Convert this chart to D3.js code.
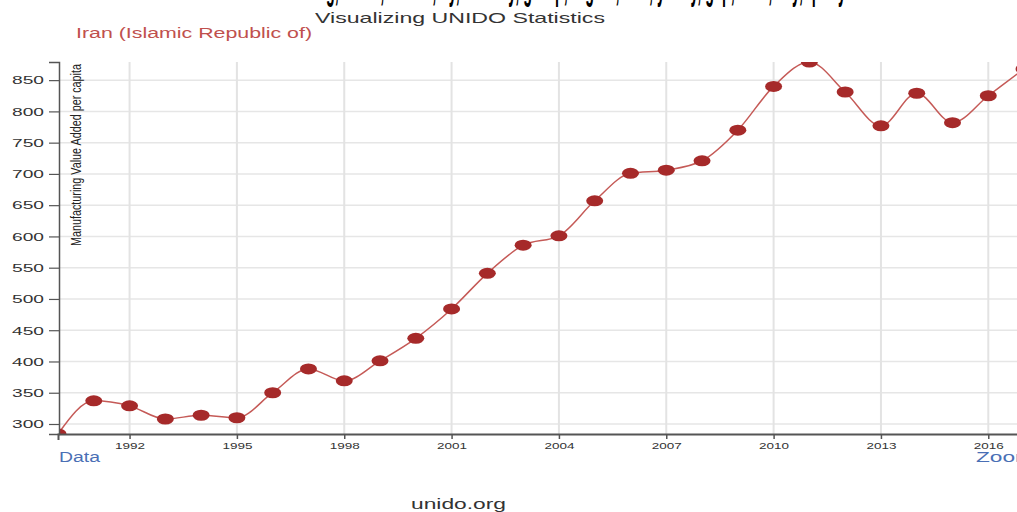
<!DOCTYPE html>
<html><head><meta charset="utf-8">
<script src="https://cdn.jsdelivr.net/npm/d3@7"></script>
<style>html,body{margin:0;padding:0;background:#fff;overflow:hidden}svg{display:block}text{font-family:"Liberation Sans",Arial,sans-serif}</style>
</head><body>
<svg id="c" width="1017" height="512"></svg>
<script>
const years = [1990,1991,1992,1993,1994,1995,1996,1997,1998,1999,2000,2001,2002,2003,2004,2005,2006,2007,2008,2009,2010,2011,2012,2013,2014,2015,2016,2017];
const values = [284,337,329,308,314,310,350,388,369,401,437,484,541,586,601,657,701,706,721,770,840,879,831,777,829,782,825,868];
const xTickValues = [1992,1995,1998,2001,2004,2007,2010,2013,2016];
const yTickValues = [300,350,400,450,500,550,600,650,700,750,800,850];
const title = "Visualizing UNIDO Statistics";
const country = "Iran (Islamic Republic of)";
const yLabel = "Manufacturing Value Added per capita";

(function(){
const svg = d3.select("#c");
const pL = 59, pT = 62, pB = 434, pR = 1017;
const x = d3.scaleLinear().domain([1990, 2017]).range([58, 58 + 27*35.78]);
const y = d3.scaleLinear().domain(d3.extent(values)).range([pB, pT]);

svg.append("text").attr("x", 236).attr("y", -1.5).attr("font-size", 40).attr("font-weight", "bold")
  .attr("textLength", 610).attr("lengthAdjust", "spacingAndGlyphs").attr("fill", "#000")
  .text("Manufacturing, Value, Added, by, country, group, region, and, yearly, gap, data, key, query");

svg.append("text").attr("x", 315).attr("y", 23).attr("font-size", 15).attr("fill", "#333")
  .attr("textLength", 290).attr("lengthAdjust", "spacingAndGlyphs").text(title);
svg.append("text").attr("x", 76).attr("y", 37.5).attr("font-size", 14).attr("fill", "#c0504d")
  .attr("textLength", 236).attr("lengthAdjust", "spacingAndGlyphs").text(country);

const grid = svg.append("g");
grid.selectAll("line.h").data(yTickValues).join("line").attr("class","h")
  .attr("x1", pL).attr("x2", pR).attr("y1", d => y(d)).attr("y2", d => y(d))
  .attr("stroke", "#e6e6e6").attr("stroke-width", 1.5);
grid.selectAll("line.v").data(xTickValues).join("line").attr("class","v")
  .attr("x1", d => x(d)).attr("x2", d => x(d)).attr("y1", pT).attr("y2", pB)
  .attr("stroke", "#e3e3e3").attr("stroke-width", 2);

svg.append("defs").append("clipPath").attr("id", "clip").append("rect")
  .attr("x", pL).attr("y", pT).attr("width", pR - pL).attr("height", pB - pT);

const plot = svg.append("g").attr("clip-path", "url(#clip)");
const pts = years.map((yr, i) => [yr, values[i]]);
plot.append("path").datum(pts)
  .attr("d", d3.line().x(d => x(d[0])).y(d => y(d[1])).curve(d3.curveMonotoneX))
  .attr("fill", "none").attr("stroke", "#c55a57").attr("stroke-width", 1.5);
plot.selectAll("ellipse").data(pts).join("ellipse")
  .attr("cx", d => x(d[0])).attr("cy", d => y(d[1])).attr("rx", 8.5).attr("ry", 5.5)
  .attr("fill", "#a62a2a");

const yAxis = svg.append("g").attr("transform", `translate(${pL},0)`)
  .call(d3.axisLeft(y).tickValues(yTickValues).tickSize(10).tickSizeOuter(10).tickFormat(d3.format("d")));
yAxis.select(".domain").attr("stroke", "#555").attr("stroke-width", 1.5);
yAxis.selectAll(".tick line").attr("stroke", "#555").attr("stroke-width", 1.2);
yAxis.selectAll(".tick text").attr("x", -15).attr("dy", null).attr("y", 3.8)
  .attr("font-size", 10.5).attr("fill", "#333")
  .attr("textLength", 32).attr("lengthAdjust", "spacingAndGlyphs");
yAxis.attr("font-family", null);

const xAxis = svg.append("g").attr("transform", `translate(0,${pB})`)
  .call(d3.axisBottom(x).tickValues(xTickValues).tickSize(5).tickSizeOuter(6).tickFormat(d3.format("d")));
xAxis.select(".domain").attr("stroke", "#555").attr("stroke-width", 2);
xAxis.selectAll(".tick line").attr("stroke", "#555").attr("stroke-width", 1.5);
xAxis.selectAll(".tick text").attr("dy", null).attr("y", 14.5)
  .attr("font-size", 8.5).attr("fill", "#333")
  .attr("textLength", 30).attr("lengthAdjust", "spacingAndGlyphs");
xAxis.attr("font-family", null);

svg.append("text").attr("transform", "translate(81,64) rotate(-90)").attr("text-anchor", "end")
  .attr("font-size", 15).attr("fill", "#222")
  .attr("textLength", 182).attr("lengthAdjust", "spacingAndGlyphs").text(yLabel);

svg.append("text").attr("x", 59).attr("y", 462).attr("font-size", 14).attr("fill", "#4a6fb5")
  .attr("textLength", 41).attr("lengthAdjust", "spacingAndGlyphs").text("Data");
svg.append("text").attr("x", 976).attr("y", 462).attr("font-size", 14).attr("fill", "#4a6fb5")
  .attr("textLength", 58).attr("lengthAdjust", "spacingAndGlyphs").text("Zoom");
svg.append("text").attr("x", 411).attr("y", 509).attr("font-size", 14).attr("fill", "#333")
  .attr("textLength", 95).attr("lengthAdjust", "spacingAndGlyphs").text("unido.org");
})();
</script>
</body></html>
